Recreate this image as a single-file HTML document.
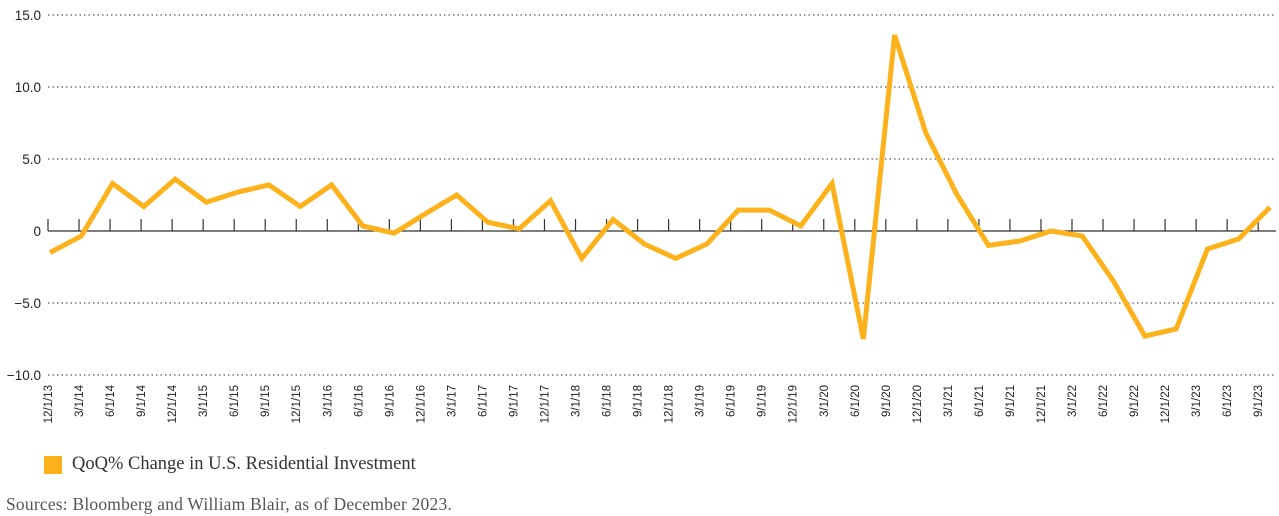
<!DOCTYPE html>
<html><head><meta charset="utf-8"><style>
body{margin:0;background:#fff;width:1279px;height:516px;overflow:hidden;position:relative;font-family:"Liberation Sans",sans-serif}
svg{position:absolute;left:0;top:0}
.leg{position:absolute;left:44px;top:454px;display:flex;align-items:center;font-family:"Liberation Serif",serif;font-size:18.5px;color:#333}
.sw{width:18px;height:18px;background:#FDB11B;margin-right:10px}
.src{position:absolute;left:6px;top:494px;font-family:"Liberation Serif",serif;font-size:17.5px;color:#555;letter-spacing:0.2px}
</style></head><body>
<svg id="chart" width="1279" height="516"></svg>
<div class="leg"><div class="sw"></div><span>QoQ% Change in U.S. Residential Investment</span></div>
<div class="src">Sources: Bloomberg and William Blair, as of December 2023.</div>
<script>
const categories=["12/1/13","3/1/14","6/1/14","9/1/14","12/1/14","3/1/15","6/1/15","9/1/15","12/1/15","3/1/16","6/1/16","9/1/16","12/1/16","3/1/17","6/1/17","9/1/17","12/1/17","3/1/18","6/1/18","9/1/18","12/1/18","3/1/19","6/1/19","9/1/19","12/1/19","3/1/20","6/1/20","9/1/20","12/1/20","3/1/21","6/1/21","9/1/21","12/1/21","3/1/22","6/1/22","9/1/22","12/1/22","3/1/23","6/1/23","9/1/23"];
const values=[-1.5,-0.35,3.3,1.7,3.6,2.0,2.7,3.2,1.7,3.2,0.35,-0.15,1.2,2.5,0.6,0.15,2.1,-1.9,0.8,-0.9,-1.9,-0.9,1.45,1.45,0.35,3.3,-7.5,13.6,6.8,2.5,-1.0,-0.7,0,-0.35,-3.5,-7.3,-6.8,-1.25,-0.55,1.65];
const yTicks=[15,10,5,0,-5,-10];
const yTickLabels=["15.0","10.0","5.0","0","\u22125.0","\u221210.0"];
const NS="http://www.w3.org/2000/svg";
const svg=document.getElementById('chart');
const y=v=>231-v*14.4;
const tx=i=>48+i*31.03;
const px=i=>50+i*(1270-50)/(values.length-1);
function mk(t,a){const e=document.createElementNS(NS,t);for(const k in a)e.setAttribute(k,a[k]);svg.appendChild(e);return e;}
yTicks.forEach((v,i)=>{
 if(v!==0){const g=mk('line',{x1:48,x2:1276,y1:y(v),y2:y(v),stroke:'#333','stroke-width':1,'stroke-dasharray':'1.5,3'});
 
 }
 const t=mk('text',{x:41,y:y(v)+5,'text-anchor':'end','font-size':13.5,fill:'#222'});t.textContent=yTickLabels[i];
 
 
});
const ax=mk('line',{x1:48,x2:1276,y1:y(0),y2:y(0),stroke:'#333','stroke-width':1.3});


categories.forEach((c,i)=>{
 const x=tx(i);
 const tk=mk('line',{x1:x,x2:x,y1:y(0),y2:y(0)-12,stroke:'#333','stroke-width':1.2});
 
 
 const t=mk('text',{x:0,y:0,'text-anchor':'end','font-size':11.5,fill:'#222',transform:`translate(${x+4},385) rotate(-90)`});
 t.textContent=c;
 
 
});
const line=mk('polyline',{points:values.map((v,i)=>px(i)+','+y(v)).join(' '),fill:'none',stroke:'#FDB11B','stroke-width':5,'stroke-linejoin':'miter','stroke-miterlimit':3});


</script>
</body></html>
